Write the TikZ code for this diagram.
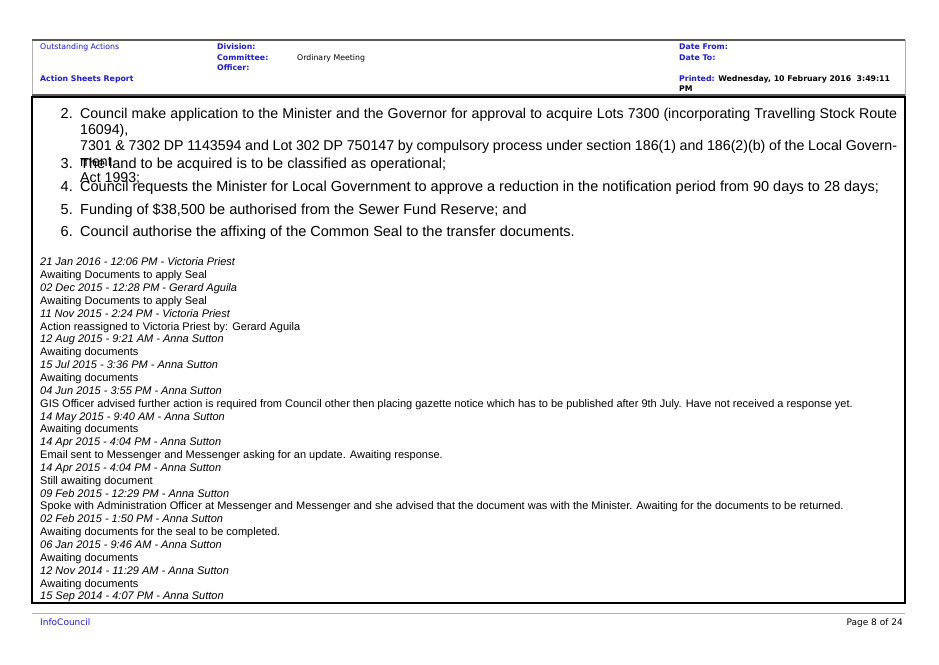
\documentclass[tikz,border=0pt]{standalone}
\usepackage{fontspec}
\setmainfont{Liberation Sans}
\newfontfamily\hdr{DejaVu Sans}
\begin{document}
\begin{tikzpicture}[x=1pt,y=-1pt,
  hd/.style={anchor=base west,inner sep=0pt,font=\hdr\fontsize{7.8}{9}\selectfont},
  hb/.style={hd,font=\hdr\bfseries\fontsize{7.8}{9}\selectfont},
  lg/.style={anchor=base west,inner sep=0pt,font=\fontsize{11}{12}\selectfont},
  li/.style={lg,font=\itshape\fontsize{11}{12}\selectfont},
  num/.style={anchor=base east,inner sep=0pt,font=\fontsize{14.5}{16}\selectfont},
  itm/.style={anchor=base west,inner sep=0pt,font=\fontsize{14.5}{16}\selectfont}]
\definecolor{hblue}{RGB}{30,30,200}
\useasboundingbox (0,0) rectangle (939,664);
\fill[white] (0,0) rectangle (939,664);
% header box
\draw[gray!60,line width=0.8] (32,40) rectangle (905,95);
\draw[gray!70!black,line width=1.5] (32,40) -- (905,40);
\draw[gray!70!black,line width=1.5] (32,95) -- (905,95);
\node[hd,text=hblue] (h1) at (40,49) {Outstanding Actions};
\node[hb,text=hblue] (h2) at (40,81) {Action Sheets Report};
\node[hb,text=hblue] (h3) at (217,49) {Division:};
\node[hb,text=hblue] (h4) at (217,60) {Committee:};
\node[hd] (h5) at (297,60) {Ordinary Meeting};
\node[hb,text=hblue] (h6) at (217,70) {Officer:};
\node[hb,text=hblue] (h7) at (679,49) {Date From:};
\node[hb,text=hblue] (h8) at (679,60) {Date To:};
\node[hb] (h9) at (679,81) {\textcolor{hblue}{Printed:} Wednesday, 10 February 2016\ \ 3:49:11};
\node[hb] (h10) at (679,91) {PM};
% main box
\draw[black,line width=1.2] (32,97) rectangle (905,603);
\node[num] (n2) at (73,118) {2.};
\node[anchor=north west,inner sep=0pt,text width=817pt,align=justify,font=\fontsize{14.2}{16}\selectfont] (t2) at (80,107.8)
{Council make application to the Minister and the Governor for approval to acquire Lots 7300 (incorporating Travelling Stock Route 16094),\linebreak 7301 \& 7302 DP 1143594 and Lot 302 DP 750147 by compulsory process under section 186(1) and 186(2)(b) of the Local Government\linebreak Act 1993;};
\node[num] (n3) at (73,168) {3.};
\node[itm] (t3) at (80,168) {The land to be acquired is to be classified as operational;};
\node[num] (n4) at (73,191) {4.};
\node[itm] (t4) at (80,191) {Council requests the Minister for Local Government to approve a reduction in the notification period from 90 days to 28 days;};
\node[num] (n5) at (73,214) {5.};
\node[itm] (t5) at (80,214) {Funding of \$38,500 be authorised from the Sewer Fund Reserve; and};
\node[num] (n6) at (73,236) {6.};
\node[itm] (t6) at (80,236) {Council authorise the affixing of the Common Seal to the transfer documents.};
% log
\foreach \t/\s [count=\i from 0] in {
 {21 Jan 2016 - 12:06 PM - Victoria Priest}/li,
 {Awaiting Documents to apply Seal}/lg,
 {02 Dec 2015 - 12:28 PM - Gerard Aguila}/li,
 {Awaiting Documents to apply Seal}/lg,
 {11 Nov 2015 - 2:24 PM - Victoria Priest}/li,
 {Action reassigned to Victoria Priest by: Gerard Aguila}/lg,
 {12 Aug 2015 - 9:21 AM - Anna Sutton}/li,
 {Awaiting documents}/lg,
 {15 Jul 2015 - 3:36 PM - Anna Sutton}/li,
 {Awaiting documents}/lg,
 {04 Jun 2015 - 3:55 PM - Anna Sutton}/li,
 {GIS Officer advised further action is required from Council other then placing gazette notice which has to be published after 9th July. Have not received a response yet.}/lg,
 {14 May 2015 - 9:40 AM - Anna Sutton}/li,
 {Awaiting documents}/lg,
 {14 Apr 2015 - 4:04 PM - Anna Sutton}/li,
 {Email sent to Messenger and Messenger asking for an update. Awaiting response.}/lg,
 {14 Apr 2015 - 4:04 PM - Anna Sutton}/li,
 {Still awaiting document}/lg,
 {09 Feb 2015 - 12:29 PM - Anna Sutton}/li,
 {Spoke with Administration Officer at Messenger and Messenger and she advised that the document was with the Minister. Awaiting for the documents to be returned.}/lg,
 {02 Feb 2015 - 1:50 PM - Anna Sutton}/li,
 {Awaiting documents for the seal to be completed.}/lg,
 {06 Jan 2015 - 9:46 AM - Anna Sutton}/li,
 {Awaiting documents}/lg,
 {12 Nov 2014 - 11:29 AM - Anna Sutton}/li,
 {Awaiting documents}/lg,
 {15 Sep 2014 - 4:07 PM - Anna Sutton}/li}
 { \node[\s] (log\i) at (40,265.8+12.85*\i) {\t}; }
% footer
\draw[gray!60,line width=0.6] (32,613) -- (905,613);
\node[hd,text=hblue,font=\hdr\fontsize{9}{10}\selectfont] (f1) at (40,625) {InfoCouncil};
\node[hd,anchor=base east,font=\hdr\fontsize{9}{10}\selectfont] (f2) at (903,625) {Page 8 of 24};
\end{tikzpicture}
\end{document}
